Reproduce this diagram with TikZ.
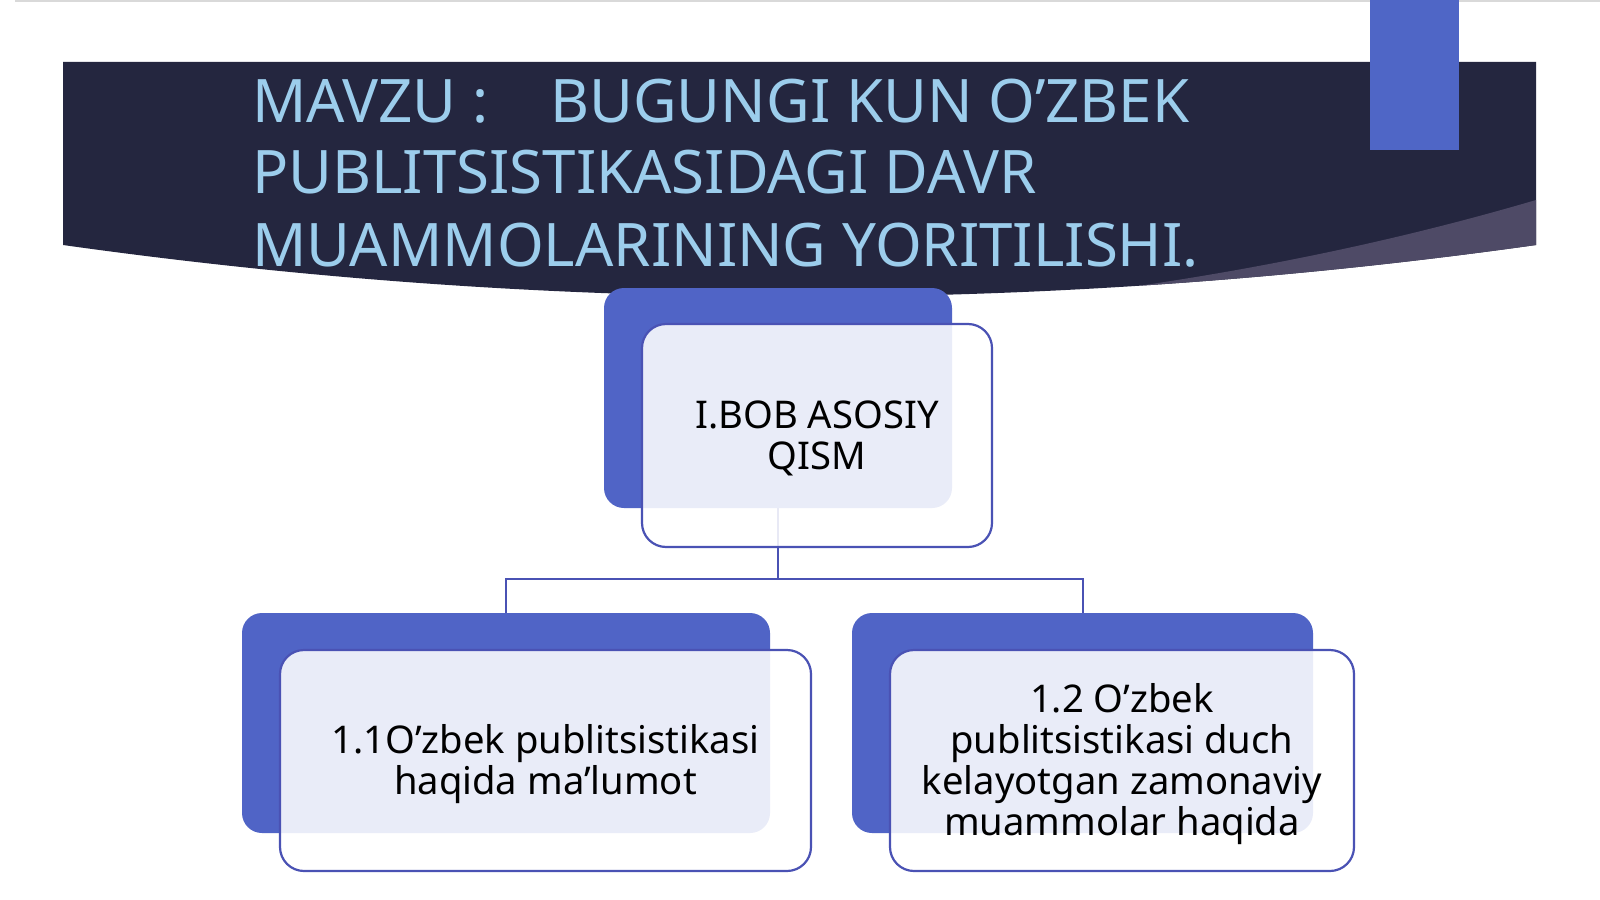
\documentclass[tikz,border=0pt]{standalone}
\usepackage{fontspec}
\setmainfont{Noto Sans}
\definecolor{navy}{HTML}{24263F}
\definecolor{band}{HTML}{4E4A66}
\definecolor{accent}{HTML}{4F66C6}
\definecolor{boxblue}{HTML}{5064C6}
\definecolor{edge}{HTML}{4A52B4}
\definecolor{titlecol}{HTML}{9CCDEC}
\newcommand{\lowerby}[1]{\rule{0pt}{#1}}
\tikzset{
  backbox/.style={fill=boxblue, rounded corners=20pt, inner sep=0pt},
  frontbox/.style={draw=edge, line width=2.2pt, fill=white, fill opacity=0.88, text opacity=1,
    rounded corners=24pt, align=center, inner sep=0pt, text=black,
    font=\fontsize{38.2}{41}\selectfont},
  conn/.style={draw=edge, line width=2pt},
  titletext/.style={anchor=base west, inner sep=0pt, text=titlecol,
    font=\fontsize{60}{72}\selectfont}
}
\begin{document}
\begin{tikzpicture}[x=1pt,y=-1pt]
\useasboundingbox (0,0) rectangle (1600,899);
\fill[white] (0,0) rectangle (1600,899);
\draw[gray!30, line width=2pt] (15,1) -- (1600,1);
% banner
\fill[navy] (63,62) -- (1536,62) -- (1536,245) .. controls (1045,314) and (554,314) .. (63,245) -- cycle;
\begin{scope}
  \clip (63,62) -- (1536,62) -- (1536,245) .. controls (1045,314) and (554,314) .. (63,245) -- cycle;
  \fill[band] (1536,200) .. controls (1400,240) and (1250,272) .. (1080,294) -- (1000,330) -- (1600,330) -- (1600,200) -- cycle;
\end{scope}
\fill[accent] (1370,0) rectangle (1459,150);
% title
\node[titletext] (title1) at (252,122) {MAVZU :\hspace{62pt}BUGUNGI KUN O’ZBEK};
\node[titletext] (title2) at (252,193) {PUBLITSISTIKASIDAGI DAVR};
\node[titletext] (title3) at (252,266) {MUAMMOLARINING YORITILISHI.};
% back boxes
\node[backbox, minimum width=348pt, minimum height=220pt] (topback) at (778,398) {};
\node[backbox, minimum width=528pt, minimum height=220pt] (lback) at (506,723) {};
\node[backbox, minimum width=461pt, minimum height=220pt] (rback) at (1082.5,723) {};
% connectors
\coordinate (junction) at (778,579);
\draw[conn] (topback.south) -- (junction);
\draw[conn] (lback.north) -- (lback.north |- junction) -- (rback.north |- junction) -- (rback.north);
% front boxes
\node[frontbox, minimum width=350pt, minimum height=223pt] (topfront) at (817,435.5) {\lowerby{33pt}I.BOB ASOSIY\\QISM};
\node[frontbox, minimum width=531pt, minimum height=221pt] (lfront) at (545.5,760.5) {\lowerby{37pt}1.1O’zbek publitsistikasi\\haqida ma’lumot};
\node[frontbox, minimum width=464pt, minimum height=221pt] (rfront) at (1122,760.5) {\lowerby{37pt}1.2 O’zbek\\publitsistikasi duch\\kelayotgan zamonaviy\\muammolar haqida};
\end{tikzpicture}
\end{document}
